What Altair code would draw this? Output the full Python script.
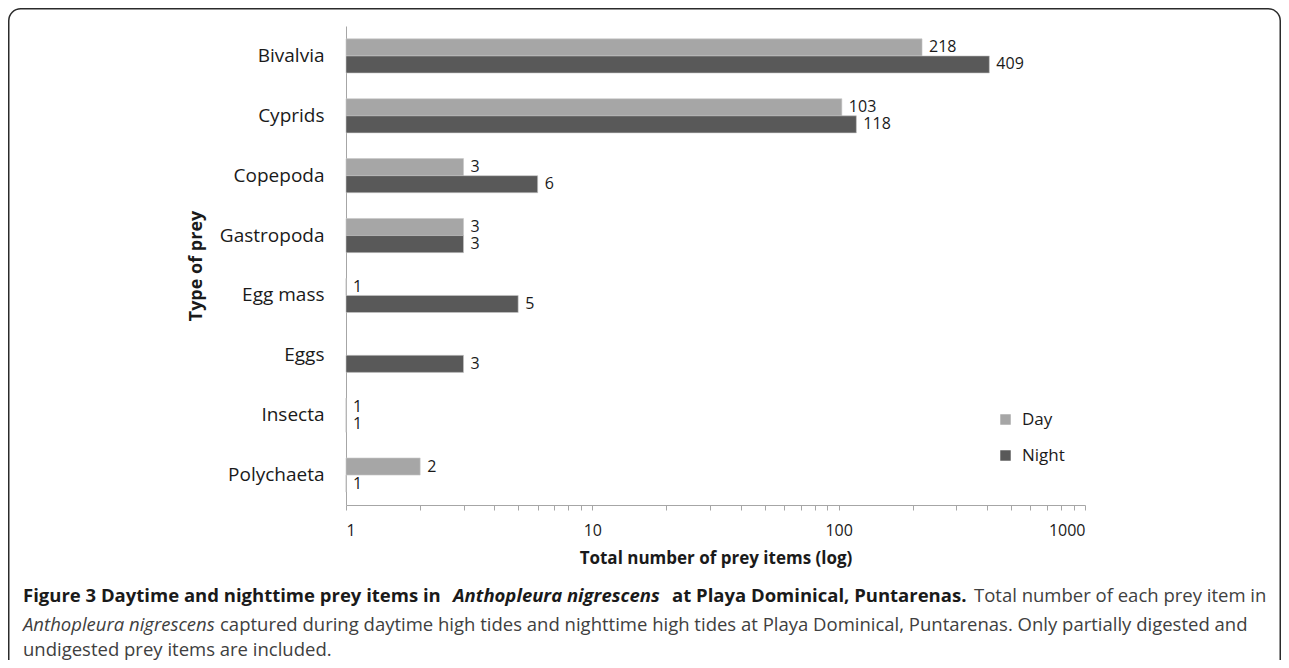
import altair as alt
import pandas as pd

categories = ["Bivalvia", "Cyprids", "Copepoda", "Gastropoda", "Egg mass", "Eggs", "Insecta", "Polychaeta"]
day_values = [218, 103, 3, 3, 1, None, 1, 2]
night_values = [409, 118, 6, 3, 5, 3, 1, 1]
periods = ["Day", "Night"]
colors = ["#a6a6a6", "#595959"]
x_ticks = [1, 2, 3, 4, 5, 6, 7, 8, 9, 10, 20, 30, 40, 50, 60, 70, 80, 90,
           100, 200, 300, 400, 500, 600, 700, 800, 900, 1000]

rows = []
for c, d, n in zip(categories, day_values, night_values):
    if d is not None:
        rows.append({"prey": c, "period": "Day", "value": d})
    if n is not None:
        rows.append({"prey": c, "period": "Night", "value": n})
df = pd.DataFrame(rows)

FONT = "Open Sans"
W, H = 739, 479

x_enc = alt.X("value:Q", stack=None,
              scale=alt.Scale(type="log", domain=[1, 1000], nice=False),
              axis=alt.Axis(values=x_ticks, tickSize=5, tickColor="#a6a6a6",
                            domainColor="#a6a6a6", grid=False,
                            labelExpr="(datum.value==1||datum.value==10||datum.value==100||datum.value==1000) ? format(datum.value,'d') : ''",
                            labelFontSize=16, labelColor="#1a1a1a", labelPadding=12,
                            labelFont=FONT, title="Total number of prey items (log)",
                            titleFont=FONT, titleFontSize=17, titleFontWeight="bold",
                            titleColor="#1a1a1a", titlePadding=12))
y_enc = alt.Y("prey:N", sort=categories,
              scale=alt.Scale(paddingInner=0.43, paddingOuter=0.215),
              axis=alt.Axis(ticks=False, domainColor="#a6a6a6", labelFontSize=19,
                            labelFont=FONT, labelColor="#1a1a1a", labelPadding=22,
                            title="Type of prey", titleFont=FONT, titleFontSize=18,
                            titleFontWeight="bold", titleColor="#1a1a1a", titlePadding=14))
yoff = alt.YOffset("period:N", sort=periods, scale=alt.Scale(paddingInner=0, paddingOuter=0))

bars = alt.Chart(df).mark_bar(stroke="#c8c8c8", strokeWidth=0.6).encode(
    x=x_enc,
    x2=alt.datum(1),
    y=y_enc,
    yOffset=yoff,
    color=alt.Color("period:N", scale=alt.Scale(domain=periods, range=colors),
                    legend=alt.Legend(title=None, orient="none", legendX=651, legendY=385,
                                      symbolType="square", symbolSize=110,
                                      symbolStrokeWidth=0, labelFont=FONT,
                                      labelFontSize=17, labelColor="#1a1a1a",
                                      rowPadding=18, labelOffset=8)),
)

labels = alt.Chart(df).mark_text(align="left", baseline="middle", dx=7,
                                 font=FONT, fontSize=16, color="#1a1a1a").encode(
    x=alt.X("value:Q", stack=None),
    y=alt.Y("prey:N", sort=categories),
    yOffset=alt.YOffset("period:N", sort=periods),
    text="value:Q",
)

one = pd.DataFrame({"k": [0]})
frame = alt.Chart(one).mark_rect(filled=False, stroke="#2b2b2b", strokeWidth=1.5,
                                 cornerRadius=12).encode(
    x=alt.value(-337.25), x2=alt.value(934.25),
    y=alt.value(-17.25), y2=alt.value(720),
)

cap_y1, cap_y2, cap_y3 = 569.5, 598.5, 624
cap_segments = [
    (-323, cap_y1, "Figure 3 Daytime and nighttime prey items in", "bold", "normal", "#1a1a1a"),
    (107, cap_y1, "Anthopleura nigrescens", "bold", "italic", "#1a1a1a"),
    (326, cap_y1, "at Playa Dominical, Puntarenas.", "bold", "normal", "#1a1a1a"),
    (628, cap_y1, "Total number of each prey item in", "normal", "normal", "#404040"),
    (-323, cap_y2, "Anthopleura nigrescens", "normal", "italic", "#404040"),
    (-126, cap_y2, "captured during daytime high tides and nighttime high tides at Playa Dominical, Puntarenas. Only partially digested and", "normal", "normal", "#404040"),
    (-323, cap_y3, "undigested prey items are included.", "normal", "normal", "#404040"),
]
caps = []
for cx, cy, txt, fw, fs, col in cap_segments:
    caps.append(alt.Chart(one).mark_text(text=txt, align="left", baseline="middle",
                                         font=FONT, fontSize=18.5, fontWeight=fw,
                                         fontStyle=fs, color=col).encode(
        x=alt.value(cx), y=alt.value(cy)))

chart = alt.layer(frame, bars, labels, *caps).properties(
    width=W, height=H,
    autosize=alt.AutoSizeParams(type="none"),
    padding={"left": 338, "top": 18, "right": 196, "bottom": 155},
).configure_view(stroke=None)

chart.save("out.html", embed_options={"renderer": "svg", "actions": False})
